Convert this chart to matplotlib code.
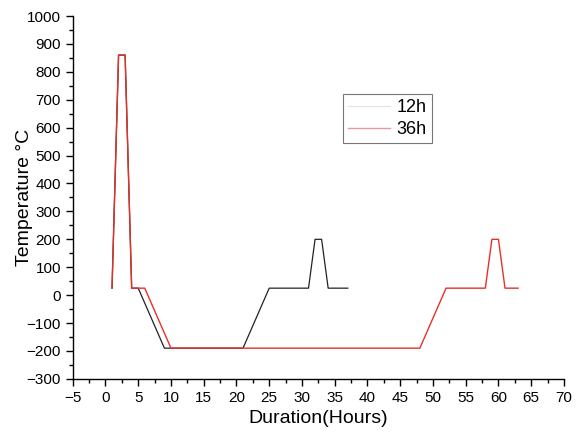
import matplotlib
matplotlib.use("Agg")
import matplotlib.pyplot as plt
from matplotlib.lines import Line2D
from matplotlib.ticker import MultipleLocator

plt.rcParams['font.family'] = ['Liberation Sans', 'DejaVu Sans']

# 12h cycle
hours_12 = [1, 2, 3, 4, 5, 9, 21, 25, 31, 32, 33, 34, 37]
temp_12 = [25, 860, 860, 25, 25, -190, -190, 25, 25, 200, 200, 25, 25]

# 36h cycle
hours_36 = [1, 2, 3, 4, 6, 10, 48, 52, 58, 59, 60, 61, 63]
temp_36 = [25, 860, 860, 25, 25, -190, -190, 25, 25, 200, 200, 25, 25]

labels = ["12h", "36h"]

fig = plt.figure(figsize=(5.79, 4.33), dpi=100)
ax = fig.add_axes([0.1256, 0.125, 0.974 - 0.1256, 0.963 - 0.125])

ax.plot(hours_12, temp_12, color="#222222", lw=0.9)
ax.plot(hours_36, temp_36, color="#e8302a", lw=1.0)

ax.set_xlim(-5, 70)
ax.set_ylim(-300, 1000)
ax.xaxis.set_major_locator(MultipleLocator(5))
ax.xaxis.set_minor_locator(MultipleLocator(2.5))
ax.yaxis.set_major_locator(MultipleLocator(100))
ax.yaxis.set_minor_locator(MultipleLocator(50))
ax.spines['top'].set_visible(False)
ax.spines['right'].set_visible(False)
for s in ('left', 'bottom'):
    ax.spines[s].set_linewidth(1.0)
ax.tick_params(which='major', direction='out', length=5, width=1.0, labelsize=11)
ax.tick_params(which='minor', direction='out', length=3, width=1.0)

ax.set_xlabel("Duration(Hours)", fontsize=14, labelpad=4)
ax.set_ylabel("Temperature °C", fontsize=14, labelpad=-5)

# legend lines in the reference are faded
handles = [Line2D([], [], color="#e6e6e6", lw=1.0),
           Line2D([], [], color="#e89a9a", lw=1.0)]
leg = ax.legend(handles, labels, loc='upper left', bbox_to_anchor=(0.55, 0.785),
                fontsize=13, frameon=True, fancybox=False, handlelength=2.3,
                borderpad=0.3, labelspacing=0.25, handletextpad=0.35, borderaxespad=0)
leg.get_frame().set_edgecolor("#555555")
leg.get_frame().set_linewidth(0.8)

fig.savefig("out.png", dpi=100)
